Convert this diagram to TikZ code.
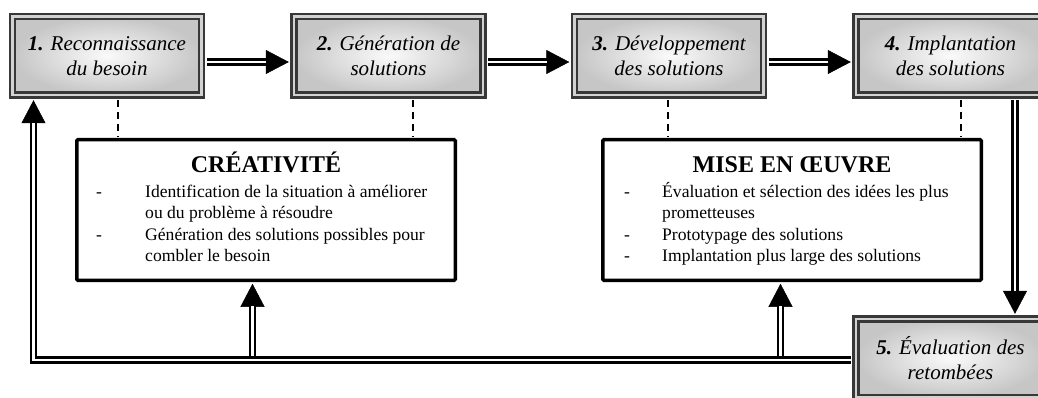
\documentclass[tikz,border=0pt]{standalone}
\usepackage{fontspec}
\setmainfont{Liberation Serif}
\usetikzlibrary{arrows.meta}
\tikzset{
  stage/.style={shade, inner color=gray!4, outer color=gray!45,
    draw=black!78, double=gray!35, line width=2.6pt, double distance=2.6pt,
    minimum width=189pt, minimum height=78.5pt, inner sep=0pt, align=center,
    font=\fontsize{21}{25}\selectfont\itshape},
  panel/.style={draw=black, line width=3.5pt, rounded corners=1pt,
    minimum width=378.5pt, minimum height=140.5pt, inner sep=0pt},
  shaft/.style={draw=black, double=white, line width=2.5pt, double distance=2.5pt},
  tipline/.style={draw=black, line width=0.5pt, -{Triangle[length=23pt,width=24pt]}},
  guide/.style={draw=black, line width=2pt, dash pattern=on 7pt off 5pt},
  ptitle/.style={anchor=base, inner sep=0pt, font=\fontsize{24}{28}\selectfont\bfseries},
  plist/.style={anchor=base west, inner sep=0pt, font=\fontsize{17.6}{21.5}\selectfont},
}
\begin{document}
\begin{tikzpicture}[x=1pt, y=-1pt]
\clip (0,0) rectangle (1038,398);

% process stages
\node[stage] (b1) at (107,55.75)   {\textbf{1.} Reconnaissance\\du besoin};
\node[stage] (b2) at (388.5,55.75) {\textbf{2.} Génération de\\solutions};
\node[stage] (b3) at (669,55.75)   {\textbf{3.} Développement\\des solutions};
\node[stage] (b4) at (950.5,55.75) {\textbf{4.} Implantation\\des solutions};
\node[stage] (b5) at (950.5,358.25){\textbf{5.} Évaluation des\\retombées};

% phase panels
\node[panel] (crea) at (266,210) {};
\node[panel] (mise) at (792,210) {};

\node[ptitle] (creaT) at (266,173) {CRÉATIVITÉ};
\node[plist] (creaL) at (96,197) {\begin{tabular}[t]{@{}p{49pt}@{}l@{}}
-&Identification de la situation à améliorer\\
 &ou du problème à résoudre\\
-&Génération des solutions possibles pour\\
 &combler le besoin
\end{tabular}};

\node[ptitle] (miseT) at (792,173) {MISE EN ŒUVRE};
\node[plist] (miseL) at (624,197) {\begin{tabular}[t]{@{}p{38pt}@{}l@{}}
-&Évaluation et sélection des idées les plus\\
 &prometteuses\\
-&Prototypage des solutions\\
-&Implantation plus large des solutions
\end{tabular}};

% dashed links from stages to panels
\draw[guide, shorten <=3.9pt, shorten >=1.75pt] ([xshift=11pt]b1.south) -- ([xshift=11pt]b1.south |- crea.north);
\draw[guide, shorten <=3.9pt, shorten >=1.75pt] ([xshift=24.5pt]b2.south) -- ([xshift=24.5pt]b2.south |- crea.north);
\draw[guide, shorten <=3.9pt, shorten >=1.75pt] ([xshift=-1pt]b3.south) -- ([xshift=-1pt]b3.south |- mise.north);
\draw[guide, shorten <=3.9pt, shorten >=1.75pt] ([xshift=10.5pt]b4.south) -- ([xshift=10.5pt]b4.south |- mise.north);

% forward arrows between stages
\draw[tipline, shorten <=3.9pt, shorten >=3.9pt] ([yshift=-6.25pt]b1.east) -- ([yshift=-6.25pt]b2.west);
\draw[shaft, shorten <=3.9pt, shorten >=26.5pt] ([yshift=-6.25pt]b1.east) -- ([yshift=-6.25pt]b2.west);
\draw[tipline, shorten <=3.9pt, shorten >=3.9pt] ([yshift=-6.25pt]b2.east) -- ([yshift=-6.25pt]b3.west);
\draw[shaft, shorten <=3.9pt, shorten >=26.5pt] ([yshift=-6.25pt]b2.east) -- ([yshift=-6.25pt]b3.west);
\draw[tipline, shorten <=3.9pt, shorten >=3.9pt] ([yshift=-6.25pt]b3.east) -- ([yshift=-6.25pt]b4.west);
\draw[shaft, shorten <=3.9pt, shorten >=26.5pt] ([yshift=-6.25pt]b3.east) -- ([yshift=-6.25pt]b4.west);

% implementation to evaluation
\draw[tipline, shorten <=3.9pt, shorten >=3.9pt] ([xshift=64.5pt]b4.south) -- ([xshift=64.5pt]b5.north);
\draw[shaft, shorten <=3.9pt, shorten >=26.5pt] ([xshift=64.5pt]b4.south) -- ([xshift=64.5pt]b5.north);

% feedback loop
\coordinate (corner) at (33.5,360);
\coordinate (j1) at (252.5,360);
\coordinate (j2) at (780.5,360);

\draw[tipline, shorten >=1.75pt] (j1) -- (j1 |- crea.south);
\draw[shaft, shorten >=24.25pt] (j1) -- (j1 |- crea.south);
\draw[tipline, shorten >=1.75pt] (j2) -- (j2 |- mise.south);
\draw[shaft, shorten >=24.25pt] (j2) -- (j2 |- mise.south);

\draw[tipline, shorten >=3.9pt] (corner) -- (corner |- b1.south);
\draw[shaft, shorten <=3.9pt, shorten >=26.5pt] (b5.west |- corner) -- (corner) -- (corner |- b1.south);
\end{tikzpicture}
\end{document}
